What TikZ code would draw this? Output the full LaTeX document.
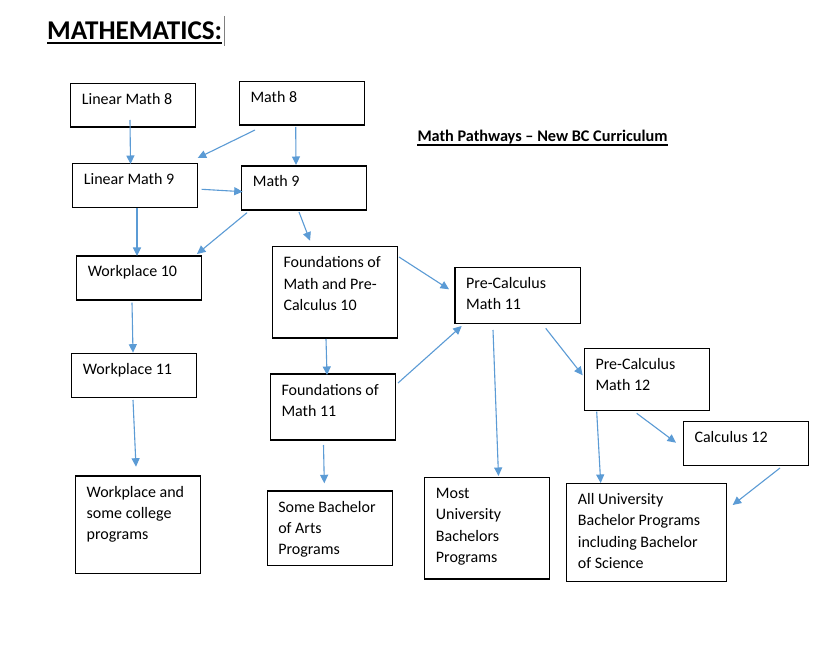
\documentclass[tikz,border=0pt]{standalone}
\usepackage{fontspec}
\setmainfont{Carlito}
\usetikzlibrary{arrows.meta,calc}
\definecolor{arrowblue}{RGB}{91,155,213}
\tikzset{
  box/.style={draw=black,line width=1.2pt,fill=white,rectangle,inner sep=0pt,outer sep=0pt,anchor=north west},
  txt/.style={inner sep=0pt,anchor=base west,font=\fontsize{16}{21.4}\selectfont},
  arr/.style={draw=arrowblue,line width=1.1pt,-{Triangle[length=8.5pt,width=8pt]}},
}
\newcommand\mybox[6]{%
  \node[box,minimum width=#4pt,minimum height=#5pt] (#1) at (#2,#3) {};
  \node[txt] (#1-t) at ($(#1.north west)+(11,21)$) {\parbox[t]{200pt}{\raggedright #6}};}
\newcommand\myarrow[6]{\draw[arr] ($(#1.north west)+(#2,#3)$) -- ($(#4.north west)+(#5,#6)$);}
\begin{document}
\begin{tikzpicture}[x=1pt,y=-1pt]
\useasboundingbox[fill=white] (0,0) rectangle (830,652);

% titles
\node[anchor=base west,inner sep=0pt,font=\fontsize{27.1}{30}\selectfont\bfseries] (title) at (47,39.5) {MATHEMATICS:};
\draw[line width=2pt] ($(title.base west)+(0,3.4)$) -- ($(title.base east)+(0,3.4)$);
\draw[gray,line width=0.8pt] ($(title.base east)+(1.7,-23.5)$) -- ($(title.base east)+(1.7,7)$);
\node[anchor=base west,inner sep=0pt,font=\fontsize{16.25}{20}\selectfont\bfseries] (sub) at (417.3,141.7) {Math Pathways – New BC Curriculum};
\draw[line width=1.3pt] ($(sub.base west)+(0,3.3)$) -- ($(sub.base east)+(0,3.3)$);

% boxes
\mybox{lm8}{70.7}{83.3}{125}{43.7}{Linear Math 8}
\mybox{m8}{239.3}{81.7}{125}{43.3}{Math 8}
\mybox{lm9}{72.7}{163.3}{125}{44.4}{Linear Math 9}
\mybox{m9}{241.7}{166}{125}{44}{Math 9}
\mybox{w10}{76.7}{256}{124.6}{44}{Workplace 10}
\mybox{fmp10}{272.3}{246.7}{125}{91.3}{Foundations of\\Math and Pre-\\Calculus 10}
\mybox{w11}{71.7}{353.3}{124.6}{44}{Workplace 11}
\mybox{fm11}{270.3}{374}{125}{66}{Foundations of\\Math 11}
\mybox{pc11}{455}{267.3}{125.3}{56}{Pre-Calculus\\Math 11}
\mybox{pc12}{584.3}{348.3}{125}{62}{Pre-Calculus\\Math 12}
\mybox{c12}{683.3}{421.7}{125}{44}{Calculus 12}
\mybox{wsc}{75.5}{476}{125.1}{97.3}{Workplace and\\some college\\programs}
\mybox{sba}{267.1}{491}{125.1}{74.7}{Some Bachelor\\of Arts\\Programs}
\mybox{mub}{424.7}{477.3}{125.1}{101.7}{Most\\University\\Bachelors\\Programs}
\mybox{aub}{566.7}{483.3}{160.1}{98}{All University\\Bachelor Programs\\including Bachelor\\of Science}

% connectors
\myarrow{lm8}{59.3}{36.7}{lm9}{57.8}{0.7}
\myarrow{m8}{15.7}{48.3}{lm9}{125}{-5.3}
\myarrow{m8}{56.4}{45.3}{m9}{54.3}{-1}
\myarrow{lm9}{129}{26}{m9}{1}{25.7}
\myarrow{lm9}{64.3}{44.7}{w10}{60.3}{0}
\myarrow{m9}{5.3}{46.7}{w10}{120.3}{-2}
\myarrow{m9}{57.3}{46}{fmp10}{37.7}{-6}
\myarrow{w10}{55.3}{46.7}{w11}{61.3}{-0.6}
\myarrow{fmp10}{53.7}{92.3}{fm11}{56.7}{1}
\myarrow{fmp10}{126.7}{10.3}{pc11}{-6}{22}
\myarrow{fm11}{127.7}{9}{pc11}{6.7}{58.7}
\myarrow{w11}{61.3}{46.7}{wsc}{60.5}{-9.3}
\myarrow{fm11}{53.2}{71}{sba}{57.2}{-7.7}
\myarrow{pc11}{38}{62.7}{mub}{73.8}{-1.3}
\myarrow{pc11}{90.7}{61}{pc12}{-1.6}{27}
\myarrow{pc12}{12.4}{63.4}{aub}{34}{-0.3}
\myarrow{pc12}{52.4}{65}{c12}{-7.3}{21}
\myarrow{c12}{96.7}{46.3}{aub}{166}{21.7}
\end{tikzpicture}
\end{document}
